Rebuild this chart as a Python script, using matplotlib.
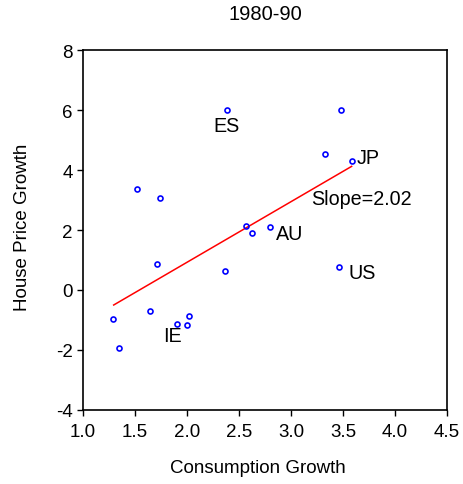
import matplotlib
matplotlib.use("Agg")
import matplotlib.pyplot as plt
import numpy as np

plt.rcParams['font.family'] = ['Liberation Sans', 'DejaVu Sans']

# Data (consumption growth, house price growth)
cons_growth = [2.388, 1.519, 1.740, 2.564, 2.622, 2.800, 3.478, 3.330, 3.583,
               1.285, 1.346, 1.644, 1.708, 1.904, 2.003, 2.019, 2.365, 3.460]
house_growth = [6.01, 3.36, 3.07, 2.13, 1.90, 2.09, 6.01, 4.52, 4.31,
                -0.96, -1.93, -0.71, 0.88, -1.12, -1.17, -0.87, 0.63, 0.78]

labels = ["ES", "JP", "AU", "US", "IE"]
label_x = [2.375, 3.635, 2.853, 3.551, 1.772]
label_y = [5.50, 4.43, 1.90, 0.59, -1.52]
label_ha = ["center", "left", "left", "left", "left"]

slope = 2.02
intercept = -3.116
slope_text = "Slope=2.02"

xticks = [1.0, 1.5, 2.0, 2.5, 3.0, 3.5, 4.0, 4.5]
yticks = [-4, -2, 0, 2, 4, 6, 8]

fig = plt.figure(figsize=(4.63, 4.85), dpi=100)
ax = fig.add_axes([0.1793, 0.1526, 0.7861, 0.7422])

x = np.array(cons_growth)
y = np.array(house_growth)
xl = np.array([x.min() + 0.01, x.max()])
ax.plot(xl, intercept + slope * xl, color='red', lw=1.1, zorder=2)
ax.plot(x, y, 'o', ms=3.6, mfc='none', mec='blue', mew=1.2, zorder=3)

for t, tx, ty, ha in zip(labels, label_x, label_y, label_ha):
    ax.text(tx, ty, t, ha=ha, va='center', fontsize=14.2)
ax.text(3.19, 3.06, slope_text, ha='left', va='center', fontsize=14.2)

ax.set_xlim(1.0, 4.5)
ax.set_ylim(-4, 8)
ax.set_xticks(xticks)
ax.set_xticklabels([f"{v:.1f}" for v in xticks])
ax.set_yticks(yticks)
ax.set_yticklabels([str(v) for v in yticks])
ax.tick_params(direction='out', length=4.5, width=1.0, labelsize=13.5, pad=3)
ax.tick_params(axis='x', pad=5)
for s in ax.spines.values():
    s.set_linewidth(1.2)

ax.set_xlabel("Consumption Growth", fontsize=13.5)
ax.xaxis.set_label_coords(0.48, -0.135)
ax.set_ylabel("House Price Growth", fontsize=13.5)
ax.yaxis.set_label_coords(-0.142, 0.511)
ax.set_title("1980-90", fontsize=14.5, pad=22)

fig.savefig("out.png", dpi=100)
